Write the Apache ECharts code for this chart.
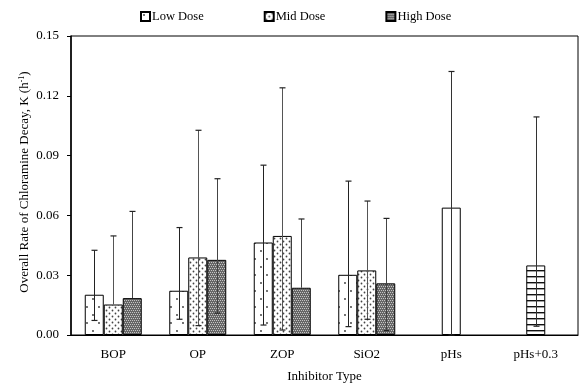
<!DOCTYPE html>
<html>
<head>
<meta charset="utf-8">
<script src="https://cdn.jsdelivr.net/npm/echarts@6/dist/echarts.min.js"></script>
<style>
  html, body { margin: 0; padding: 0; background: #fff; }
  #chart { width: 579px; height: 388px; }
</style>
</head>
<body>
<div id="chart"></div>
<script>
// Inhibitor categories and dose series (overall decay rate K, h^-1)
var categories = ['BOP', 'OP', 'ZOP', 'SiO2', 'pHs', 'pHs+0.3'];
var seriesNames = ['Low Dose', 'Mid Dose', 'High Dose'];

var lowDose  = [0.0202, 0.0222, 0.0464, 0.0302, null, null];
var midDose  = [0.0153, 0.0389, 0.0497, 0.0324, null, null];
var highDose = [0.0185, 0.0377, 0.0237, 0.0259, null, null];
// pH-adjustment controls (single bar each)
var controlRate = [null, null, null, null, 0.0639, 0.0349];

// Error bar limits (lower, upper)
var lowDoseLo  = [0.0073, 0.0079, 0.0050, 0.0042, null, null];
var lowDoseHi  = [0.0425, 0.0539, 0.0852, 0.0772, null, null];
var midDoseLo  = [0.0153, 0.0047, 0.0025, 0.0079, null, null];
var midDoseHi  = [0.0497, 0.1027, 0.1240, 0.0672, null, null];
var highDoseLo = [0.0185, 0.0110, 0.0237, 0.0022, null, null];
var highDoseHi = [0.0620, 0.0784, 0.0582, 0.0585, null, null];
var controlLo  = [null, null, null, null, 0.0000, 0.0044];
var controlHi  = [null, null, null, null, 0.1322, 0.1094];

var yTicks = [0, 0.03, 0.06, 0.09, 0.12, 0.15];

// --- fill patterns ---
function makeTile(w, h, draw) {
  var c = document.createElement('canvas');
  c.width = w; c.height = h;
  var g = c.getContext('2d');
  g.fillStyle = '#fff';
  g.fillRect(0, 0, w, h);
  draw(g);
  return { image: c, repeat: 'repeat' };
}
function dot(g, x, y, r, col) {
  g.fillStyle = col;
  g.beginPath(); g.arc(x, y, r, 0, Math.PI * 2); g.fill();
}
var sparseDots = makeTile(12, 16, function (g) {
  dot(g, 3, 3, 0.9, '#333');
  dot(g, 9, 11, 0.9, '#333');
});
var denseDots = makeTile(6, 6, function (g) {
  dot(g, 1.5, 1.5, 0.9, '#444');
  dot(g, 4.5, 4.5, 0.9, '#444');
});
var darkCheck = makeTile(4, 4, function (g) {
  g.fillStyle = '#666'; g.fillRect(0, 0, 4, 4);
  g.fillStyle = '#c4c4c4';
  g.fillRect(0, 0, 1, 1); g.fillRect(2, 0, 1, 1);
  g.fillRect(1, 2, 1, 1); g.fillRect(3, 2, 1, 1);
});
var hStripes = makeTile(4, 6, function (g) {
  g.fillStyle = '#111'; g.fillRect(0, 0, 4, 1.4);
});

var BAR_W = 19;
var font = 'Liberation Serif';

function errData(lo, hi, slot) {
  var out = [];
  for (var i = 0; i < categories.length; i++) {
    if (hi[i] == null) continue;
    out.push([i, lo[i], hi[i], slot]);
  }
  return out;
}
function valueOf(arr) {
  return arr.map(function (v) { return v == null ? '-' : v; });
}

// slot: -1 / 0 / +1 offset by one bar width within the group, 0 for the centred control bars
function renderErr(barVals, stroke) {
  return function (params, api) {
    var cat = api.value(0), lo = api.value(1), hi = api.value(2), slot = api.value(3);
    var top = api.coord([cat, hi]);
    var bot = api.coord([cat, lo]);
    var x = Math.round(top[0] + slot * BAR_W) + 0.5;
    var cap = 3;
    var children = [
      { type: 'line', shape: { x1: x, y1: top[1], x2: x, y2: bot[1] },
        style: { stroke: stroke, lineWidth: 1 } },
      { type: 'line', shape: { x1: x - cap, y1: top[1], x2: x + cap, y2: top[1] },
        style: { stroke: '#222', lineWidth: 1.2 } }
    ];
    if (lo < barVals[cat]) {
      children.push({ type: 'line', shape: { x1: x - cap, y1: bot[1], x2: x + cap, y2: bot[1] },
        style: { stroke: '#222', lineWidth: 1.2 } });
    }
    return { type: 'group', children: children };
  };
}

var chart = echarts.init(document.getElementById('chart'), null, { renderer: 'canvas' });

var barBorder = { borderColor: '#000', borderWidth: 1 };

var option = {
  animation: false,
  backgroundColor: '#fff',
  textStyle: { fontFamily: font, color: '#000' },
  grid: { left: 71, right: 1, top: 36, bottom: 52, show: true, borderColor: '#000', borderWidth: 1, backgroundColor: 'transparent' },
  legend: {
    data: seriesNames,
    left: 135, top: 5,
    itemWidth: 9, itemHeight: 9, itemGap: 60,
    icon: 'rect',
    textStyle: { fontFamily: font, fontSize: 12.5, color: '#000', padding: [0, 0, 0, -3] }
  },
  xAxis: [{
    type: 'category', data: categories,
    axisLine: { lineStyle: { color: '#000', width: 1 } },
    axisTick: { show: false },
    axisLabel: { fontFamily: font, fontSize: 13, color: '#000', margin: 13 },
    name: 'Inhibitor Type', nameLocation: 'middle', nameGap: 35,
    nameTextStyle: { fontFamily: font, fontSize: 13, color: '#000' }
  }, {
    type: 'category', data: categories, show: false
  }],
  yAxis: {
    type: 'value', min: 0, max: 0.15, interval: 0.03,
    axisLine: { show: true, lineStyle: { color: '#000', width: 1.5 } },
    axisTick: { show: true, inside: false, length: 4, lineStyle: { color: '#000' } },
    splitLine: { show: false },
    axisLabel: {
      fontFamily: font, fontSize: 13, color: '#000', margin: 12,
      formatter: function (v) { return v.toFixed(2); },
      customValues: yTicks
    }
  },
  graphic: [{
    type: 'text',
    rotation: Math.PI / 2,
    x: 25, y: 182,
    style: {
      text: 'Overall Rate of Chloramine Decay, K (h{sup|-1})',
      fontFamily: font, fontSize: 13, fill: '#000',
      align: 'center', verticalAlign: 'middle',
      rich: { sup: { fontSize: 8, verticalAlign: 'top', fontFamily: font, padding: [0, 0, 6, 0] } }
    }
  }],
  series: [
    { name: 'Low Dose', type: 'bar', xAxisIndex: 0, data: valueOf(lowDose), barWidth: BAR_W, barGap: '0%',
      itemStyle: Object.assign({ color: sparseDots }, barBorder) },
    { name: 'Mid Dose', type: 'bar', xAxisIndex: 0, data: valueOf(midDose), barWidth: BAR_W, barGap: '0%',
      itemStyle: Object.assign({ color: denseDots }, barBorder) },
    { name: 'High Dose', type: 'bar', xAxisIndex: 0, data: valueOf(highDose), barWidth: BAR_W, barGap: '0%',
      itemStyle: Object.assign({ color: darkCheck }, barBorder) },
    { name: 'Control', type: 'bar', xAxisIndex: 1, barWidth: BAR_W,
      data: controlRate.map(function (v, i) {
        if (v == null) return '-';
        return { value: v, itemStyle: { color: i === 5 ? hStripes : '#fff', borderColor: '#000', borderWidth: 1 } };
      }) },
    { type: 'custom', xAxisIndex: 0, z: 5, renderItem: renderErr(lowDose, '#222'), data: errData(lowDoseLo, lowDoseHi, -1) },
    { type: 'custom', xAxisIndex: 0, z: 5, renderItem: renderErr(midDose, '#555'), data: errData(midDoseLo, midDoseHi, 0) },
    { type: 'custom', xAxisIndex: 0, z: 5, renderItem: renderErr(highDose, '#444'), data: errData(highDoseLo, highDoseHi, 1) },
    { type: 'custom', xAxisIndex: 0, z: 5, renderItem: renderErr(controlRate, '#333'), data: errData(controlLo, controlHi, 0) }
  ]
};
chart.setOption(option);
</script>
</body>
</html>
